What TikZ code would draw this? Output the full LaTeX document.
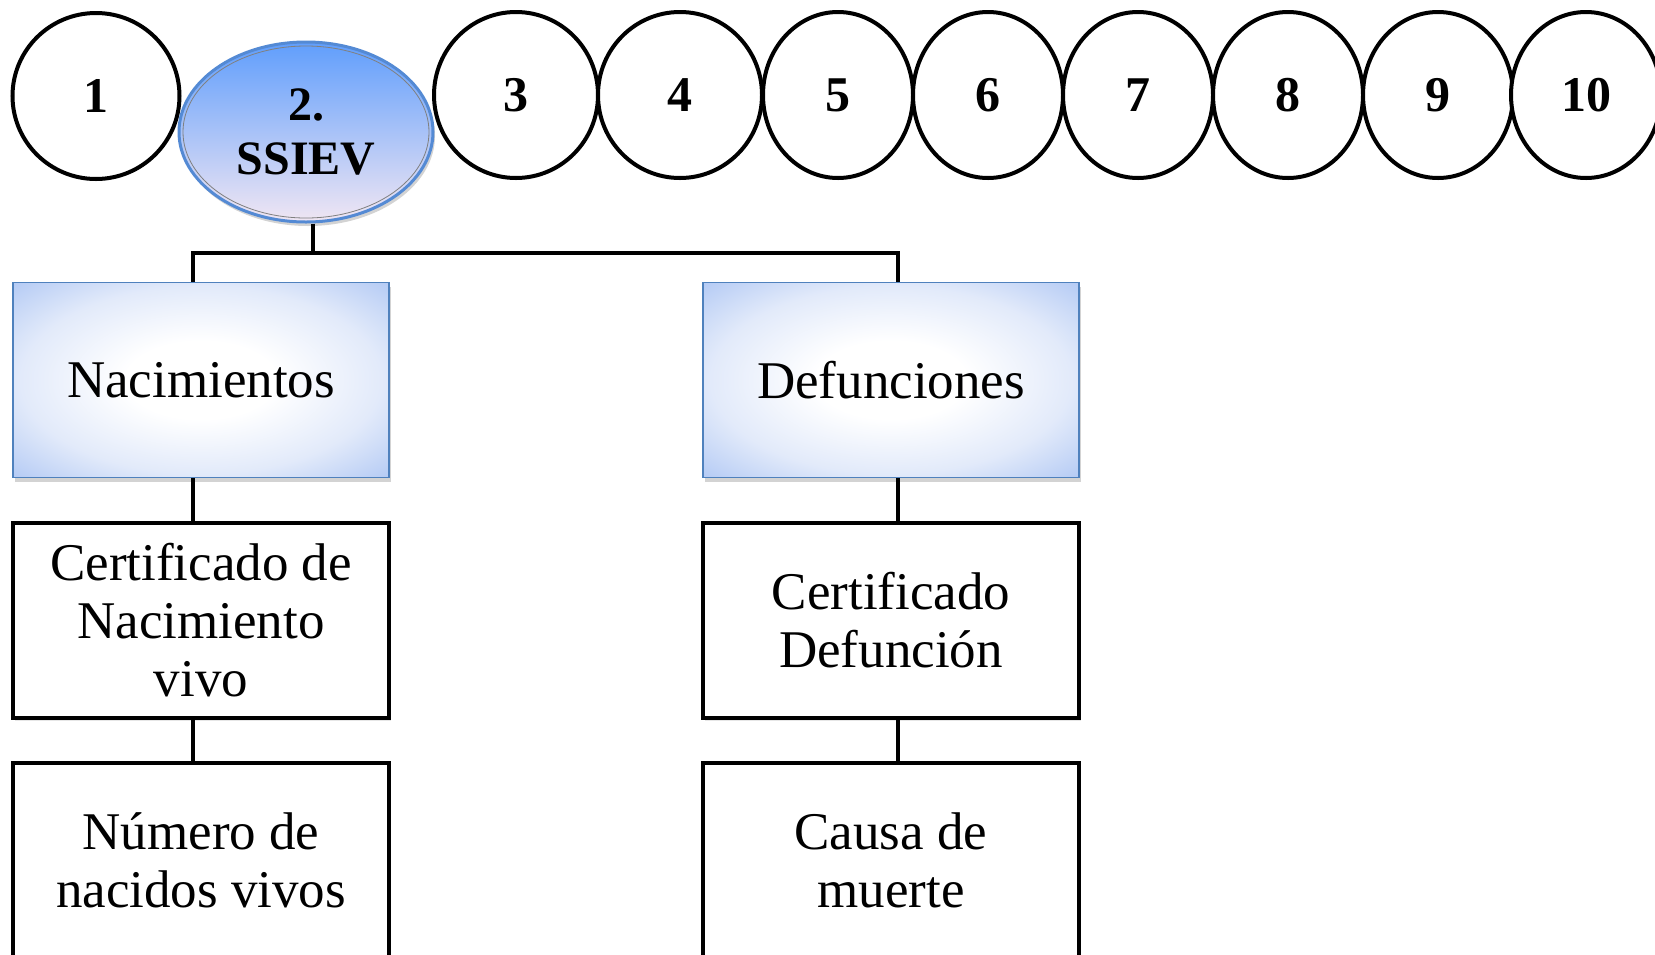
\documentclass[tikz,border=0pt]{standalone}
\usepackage{fontspec}
\setmainfont{Liberation Serif}
\usetikzlibrary{shapes.geometric,shadows,positioning}

\definecolor{ssievtop}{RGB}{96,158,252}
\definecolor{ssievbot}{RGB}{240,230,243}
\definecolor{ssievline}{RGB}{84,138,212}
\definecolor{catline}{RGB}{79,129,189}
\definecolor{catblue}{RGB}{178,201,244}
\definecolor{catmid}{RGB}{226,234,250}

\pgfdeclareradialshading{catshade}{\pgfpoint{0bp}{0bp}}{%
    color(0bp)=(white); color(10bp)=(white); color(24bp)=(catmid);
    color(36bp)=(catblue); color(50bp)=(catblue)}

\tikzset{
    numcirc/.style={ellipse,draw,line width=4pt,fill=white,inner sep=0pt,
        minimum height=166pt,minimum width=150pt,
        font=\fontsize{50}{56}\selectfont\bfseries},
    catbox/.style={rectangle,draw=catline,line width=1.5pt,inner sep=0pt,
        minimum width=376pt,minimum height=195pt,shading=catshade,
        drop shadow={shadow xshift=2pt,shadow yshift=-4pt,opacity=0.35},
        font=\fontsize{53}{58}\selectfont},
    itembox/.style={rectangle,draw,line width=4pt,fill=white,inner sep=0pt,
        minimum width=376pt,minimum height=195pt,align=center,
        drop shadow={shadow xshift=2pt,shadow yshift=-3pt,opacity=0.2},
        font=\fontsize{53}{58}\selectfont},
    link/.style={line width=4pt}
}

\begin{document}
\begin{tikzpicture}[x=1pt,y=-1pt]
    \useasboundingbox (0,0) rectangle (1655,954);

    % numbered steps
    \node[numcirc,minimum width=167pt] (n1) at (96,96) {1};
    \node[numcirc,minimum width=164pt] (n3) at (516,95) {3};
    \node[numcirc,minimum width=164pt] (n4) at (680,95) {4};
    \node[numcirc] (n5) at (838,95) {5};
    \node[numcirc] (n6) at (988,95) {6};
    \node[numcirc] (n7) at (1138,95) {7};
    \node[numcirc] (n8) at (1288,95) {8};
    \node[numcirc] (n9) at (1438,95) {9};
    \node[numcirc] (n10) at (1586,95) {10};

    \node[ellipse,draw=ssievline,line width=3pt,inner sep=0pt,
        minimum width=254pt,minimum height=180pt,
        top color=ssievtop,bottom color=ssievbot,align=center,
        drop shadow={shadow xshift=2pt,shadow yshift=-4pt,opacity=0.35},
        font=\fontsize{48}{54}\selectfont\bfseries] (ssiev) at (306,132) {2.\\SSIEV};
    \draw[gray,line width=0.8pt] (ssiev.center) ellipse (123 and 86);

    % categories
    \node[catbox] (nac) at (201,380) {Nacimientos};
    \node[catbox] (def) at (891,380) {Defunciones};

    \node[itembox] (cnv) at (201,620) {Certificado de\\Nacimiento\\vivo};
    \node[itembox] (nnv) at (201,860) {Número de\\nacidos vivos};

    \node[itembox] (cdf) at (891,620) {Certificado\\Defunción};
    \node[itembox] (cmu) at (891,860) {Causa de\\muerte};

    \coordinate (bus) at (0,253);
    \coordinate (stem) at ([xshift=7pt]ssiev.south);

    \draw[link] (stem) -- (stem |- bus);
    \draw[link] ([xshift=-8pt]nac.north) |- (bus -| stem) -| ([xshift=7pt]def.north);
    \draw[link] ([xshift=-8pt]nac.south) -- ([xshift=-8pt]cnv.north);
    \draw[link] ([xshift=-8pt]cnv.south) -- ([xshift=-8pt]nnv.north);
    \draw[link] ([xshift=7pt]def.south) -- ([xshift=7pt]cdf.north);
    \draw[link] ([xshift=7pt]cdf.south) -- ([xshift=7pt]cmu.north);
\end{tikzpicture}
\end{document}
